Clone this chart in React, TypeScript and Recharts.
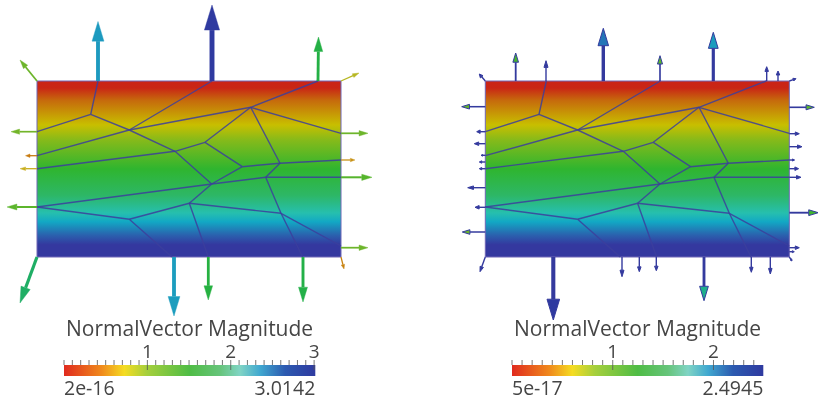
import { ComposedChart, Line, ReferenceArea, XAxis, YAxis } from "recharts";

// Colour ramp of the legend bars (offset 0-1, colour), the arrows use the same offsets with shaded colours
const rampOffsets = [0, 0.15, 0.24, 0.33, 0.5, 0.62, 0.7, 0.78, 0.88, 1];
const rampColors = ["#e02a1e", "#f08a1c", "#f5dc22", "#a5cf3c", "#4fbc45", "#66c47a", "#80d4c4", "#40a8d0", "#2c5ab0", "#2f3aa0"];
const arrowColors = ["#c92615", "#c87a10", "#c8b820", "#78b52a", "#2fb52f", "#1fae50", "#1fae90", "#1c9cc0", "#2a5ab0", "#2f3aa0"];
const plateOffsets = [0, 0.04, 0.11, 0.25, 0.335, 0.5, 0.65, 0.75, 0.8, 0.875, 0.93, 1];
const plateColors = ["#cb2416", "#c92615", "#c66a0c", "#c8bf00", "#86ba1a", "#2fb52f", "#2db766", "#26bfae", "#12a8c4", "#2a62ae", "#34389f", "#34389f"];

// Mesh nodes in plate coordinates (x along, y down from the top edge)
const meshNodes: Record<string, [number, number]> = {
  t1: [61, 0], t2: [175, 0], t3: [281, 0],
  a: [53.7, 33.3], b: [92.3, 49], c: [213.7, 26.3], d: [168, 61.3], e: [138, 70.3],
  f: [205.3, 85.7], g: [243, 82.3], h: [174.7, 103], i: [228.7, 96.3],
  j: [152.3, 122.3], k: [92.3, 138.3], m: [244, 132.3],
  l1: [0, 50.7], l2: [0, 74.7], l3: [0, 87.7], l4: [0, 126],
  r1: [304, 52.3], r2: [304, 79], r3: [304, 96.3], r4: [304, 165],
  b1: [135, 176], b2: [171.3, 176], b3: [265.7, 176],
};
const meshEdges = [
  "t1-a", "a-l1", "a-b", "b-t2", "b-l2", "b-c", "c-t3", "c-r1", "c-d", "c-g", "b-e", "e-d", "e-l3", "e-h",
  "d-f", "f-h", "f-g", "g-r2", "g-i", "i-r3", "i-h", "h-l4", "h-j", "j-k", "k-l4", "j-m", "i-m",
  "j-b2", "k-b1", "m-b3", "m-r4",
];

// Vectors: base x, base y, u, v
const leftVectors = [
  [61, 0, 0, -59.5], [175, 0, 0, -76], [281, 0, 0.5, -44], [0, 0, -17, -21], [304, 0, 18, -8],
  [0, 50.7, -26, 0], [0, 74.7, -11.5, 0], [0, 87.7, -17, 0], [0, 126, -30, 0],
  [304, 52.3, 27, 0], [304, 79, 14, 0], [304, 96.3, 31, 0], [304, 166.7, 27, 0],
  [0, 176, -17, 46], [137, 176, 0, 59], [171.3, 176, 0, 43], [266, 176, 0, 45], [304, 176, 3, 12],
];
const rightVectors = [
  [30.4, 0, 0, -28], [60.7, 0, 0, -20.3], [118, 0, 0, -52.7], [174.7, 0, 0, -25.3], [228, 0, 0, -48.7],
  [281.4, 0, 0, -14.3], [292.7, 0, 0, -10], [0, 0, -6, -7], [304, 0, 6.7, -2.3],
  [0, 25.7, -23.6, 0], [0, 50.7, -8.6, 0], [0, 62.7, -11, 0], [0, 74.3, -4.3, 0], [0, 81, -6, 0],
  [0, 87.7, -6, 0], [0, 106.7, -17.6, 0], [0, 126.3, -10.3, 0], [0, 151, -23, 0], [0, 176, -5.3, 14.7],
  [304, 26.3, 25, 0], [304, 52.7, 10, 0], [304, 65.7, 12.7, 0], [304, 79, 5.3, 0], [304, 87.7, 9.3, 0],
  [304, 96.3, 11.7, 0], [304, 131.7, 29, 0], [304, 166.7, 10, 0], [304, 170.7, 5, 0], [304, 176, 2.7, 4],
  [68, 176, 0, 63], [136.7, 176, 0, 19.7], [154, 176, 0, 14.7], [171, 176, 0, 13.7], [218.7, 176, 0, 43.7],
  [266, 176, 0, 15.3], [285, 176, 0, 17],
];

const leftTicks = [0, 0.1, 0.2, 0.3, 0.4, 0.5, 0.6, 0.7, 0.8, 0.9, 1, 1.1, 1.2, 1.3, 1.4, 1.5, 1.6, 1.7, 1.8, 1.9, 2, 2.1, 2.2, 2.3, 2.4, 2.5, 2.6, 2.7, 2.8, 2.9, 3];
const rightTicks = [0, 0.1, 0.2, 0.3, 0.4, 0.5, 0.6, 0.7, 0.8, 0.9, 1, 1.1, 1.2, 1.3, 1.4, 1.5, 1.6, 1.7, 1.8, 1.9, 2, 2.1, 2.2, 2.3, 2.4];

const FONT = "'Open Sans', sans-serif";
const TEXT = "#454545";
const SHAFT_DARK = "#343a9e";
const MESH = "#3c3e9c";
// arrow length on the picture -> field magnitude
const PX_TO_MAG = 0.0397;

function rampColor(t: number) {
  const v = Math.min(1, Math.max(0, t));
  let i = 0;
  while (i < rampOffsets.length - 2 && v > rampOffsets[i + 1]) i++;
  const f = (v - rampOffsets[i]) / (rampOffsets[i + 1] - rampOffsets[i]);
  const rgb = (hex: string) => [1, 3, 5].map((p) => parseInt(hex.slice(p, p + 2), 16));
  const a = rgb(arrowColors[i]);
  const b = rgb(arrowColors[i + 1]);
  return `rgb(${a.map((c, n) => Math.round(c + (b[n] - c) * f)).join(",")})`;
}

function Plate({ left, vectors, domainLeft, maxMag, darkShaft }: {
  left: number;
  vectors: number[][];
  domainLeft: number;
  maxMag: number;
  darkShaft?: boolean;
}) {
  const gid = `plate${left}`;
  return (
    <div style={{ position: "absolute", left, top: 0 }}>
      <ComposedChart width={409} height={401} margin={{ top: 0, right: 0, bottom: 0, left: 0 }}>
        <defs>
          <linearGradient id={gid} x1="0" y1="0" x2="0" y2="1">
            {plateOffsets.map((o, i) => <stop key={o} offset={o} stopColor={plateColors[i]} />)}
          </linearGradient>
        </defs>
        <XAxis type="number" dataKey="x" hide domain={[domainLeft, domainLeft + 409]} allowDataOverflow />
        <YAxis type="number" dataKey="y" hide reversed domain={[-81, 320]} allowDataOverflow width={0} />
        <ReferenceArea x1={0} x2={304} y1={0} y2={176} fill={`url(#${gid})`} fillOpacity={1} stroke="#6f66b6" strokeWidth={1} />
        {meshEdges.map((edge) => {
          const [from, to] = edge.split("-").map((n) => meshNodes[n]);
          return (
            <Line key={edge} data={[{ x: from[0], y: from[1] }, { x: to[0], y: to[1] }]} dataKey="y" stroke={MESH}
              strokeOpacity={0.85} strokeWidth={1.4} dot={false} activeDot={false} isAnimationActive={false} />
          );
        })}
        {vectors.map(([x, y, u, v]) => {
          const len = Math.hypot(u, v);
          // very short vectors get a proportionally small head
          const head = Math.max(len * 0.33, Math.min(4.5, len * 0.4));
          const headWidth = Math.max(len * 0.2, Math.min(3.5, len * 0.4));
          const ux = u / len;
          const uy = v / len;
          const color = rampColor((len * PX_TO_MAG) / maxMag);
          const outline = darkShaft ? SHAFT_DARK : color;
          // the small heads on the right plate read as solid shaft colour
          const fill = darkShaft && len < 22 ? SHAFT_DARK : color;
          return (
            <Line key={`${x}-${y}-${u}-${v}`} dataKey="y"
              data={[{ x, y }, { x: x + u - ux * head, y: y + v - uy * head }]}
              stroke={outline} strokeWidth={Math.max(darkShaft ? 1.4 : 1.3, len * 0.065)} activeDot={false} isAnimationActive={false}
              dot={(p: any) => p.index !== 1 ? <g key={p.index} /> : (
                <polygon key={p.index} fill={fill} stroke={outline} strokeWidth={darkShaft ? 1 : 0.4}
                  points={[
                    `${p.cx + ux * head},${p.cy + uy * head}`,
                    `${p.cx - uy * headWidth / 2},${p.cy + ux * headWidth / 2}`,
                    `${p.cx + uy * headWidth / 2},${p.cy - ux * headWidth / 2}`,
                  ].join(" ")} />
              )} />
          );
        })}
      </ComposedChart>
    </div>
  );
}

function ScalarBar({ left, maxValue, ticks, minLabel, maxLabel }: {
  left: number;
  maxValue: number;
  ticks: number[];
  minLabel: string;
  maxLabel: string;
}) {
  const gid = `bar${left}`;
  const renderTick = (p: any) => {
    const major = Number.isInteger(p.payload.value) && p.payload.value > 0;
    return (
      <g key={p.payload.value}>
        <line x1={p.x} x2={p.x} y1={p.y - 5} y2={p.y + (major ? 5 : 0)} stroke="#555" strokeWidth={0.8} />
        {major && <text x={p.x} y={p.y - 7} textAnchor="middle" fontSize={19} fontFamily={FONT} fill={TEXT}>{p.payload.value}</text>}
      </g>
    );
  };
  return (
    <div style={{ position: "absolute", left, top: 315 }}>
      <ComposedChart width={300} height={86} margin={{ top: 20, right: 24.7, bottom: 25, left: 24 }}>
        <defs>
          <linearGradient id={gid} x1="0" y1="0" x2="1" y2="0">
            {rampOffsets.map((o, i) => <stop key={o} offset={o} stopColor={rampColors[i]} />)}
          </linearGradient>
        </defs>
        <XAxis type="number" dataKey="x" orientation="top" height={30} domain={[0, maxValue]} ticks={ticks} interval={0}
          axisLine={false} tickLine={false} tickSize={0} tickMargin={0} tick={renderTick} />
        <YAxis type="number" dataKey="y" hide domain={[0, 1]} width={0} />
        <ReferenceArea x1={0} x2={maxValue} y1={0} y2={1} fill={`url(#${gid})`} fillOpacity={1} stroke="none" />
        <Line data={[{ x: 0, y: 0 }, { x: maxValue, y: 1 }]} dataKey="y" stroke="none" dot={false} activeDot={false} isAnimationActive={false} />
        <text x={149.6} y={20.5} textAnchor="middle" fontSize={21} fontFamily={FONT} fill={TEXT}>NormalVector Magnitude</text>
        <text x={24} y={80} fontSize={19.5} fontFamily={FONT} fill={TEXT}>{minLabel}</text>
        <text x={275.3} y={80} textAnchor="end" fontSize={19.5} fontFamily={FONT} fill={TEXT}>{maxLabel}</text>
      </ComposedChart>
    </div>
  );
}

export default function App() {
  return (
    <div style={{ position: "absolute", left: 0, top: 0, width: 818, height: 401, overflow: "hidden", background: "#fff", filter: "blur(0.5px)" }}>
      <Plate left={0} vectors={leftVectors} domainLeft={-37} maxMag={3.0142} />
      <Plate left={409} vectors={rightVectors} domainLeft={-76.3} maxMag={2.4945} darkShaft />
      <ScalarBar left={40} maxValue={3.0142} ticks={leftTicks} minLabel="2e-16" maxLabel="3.0142" />
      <ScalarBar left={488.3} maxValue={2.4945} ticks={rightTicks} minLabel="5e-17" maxLabel="2.4945" />
    </div>
  );
}
